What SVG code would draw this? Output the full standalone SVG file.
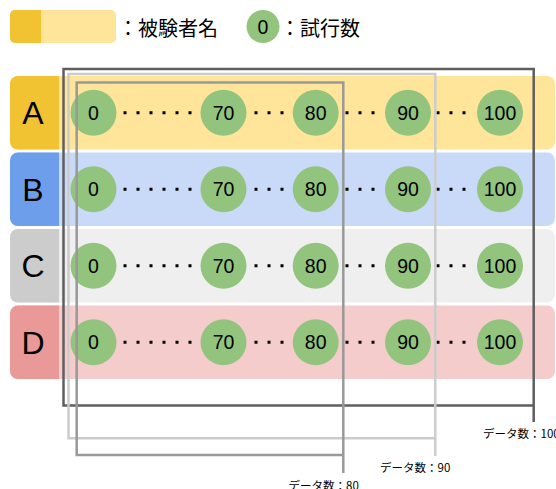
<svg xmlns="http://www.w3.org/2000/svg" width="556" height="489" viewBox="0 0 556 489">
<style>
.lbl{font-family:"Liberation Sans",Arial,sans-serif;font-size:32px;fill:#000;text-anchor:middle}
.num{font-family:"Liberation Sans",Arial,sans-serif;font-size:19.5px;fill:#000;text-anchor:middle}
.jp{font-family:"Noto Sans CJK JP","Liberation Sans",sans-serif;fill:#000}
.leg{font-size:20px}
.dl{font-size:11.5px}
.tc{fill:#93c47d}
.dots{stroke:#000;stroke-width:3;stroke-dasharray:3 10;fill:none}
.fr{fill:none;stroke-width:2.5}
</style>
<g id="legend">
<rect x="10" y="10" width="106" height="33" rx="5" fill="#ffe599"/>
<path d="M15,10 H41 V43 H15 A5,5 0 0 1 10,38 V15 A5,5 0 0 1 15,10 Z" fill="#f1c232"/>
<text class="jp leg" x="118" y="36">：被験者名</text>
<circle class="tc" cx="263" cy="26.5" r="16.5"/>
<text class="num" x="263" y="33.5">0</text>
<text class="jp leg" x="280" y="36">：試行数</text>
</g>
<g id="rowA">
<rect x="10" y="76" width="545" height="73.5" rx="8" fill="#ffe599"/>
<path d="M18,76 H59 V149.5 H18 A8,8 0 0 1 10,141.5 V84 A8,8 0 0 1 18,76 Z" fill="#f1c232"/>
<text class="lbl" x="33" y="124">A</text>
</g>
<g id="rowB">
<rect x="10" y="152.5" width="545" height="73.5" rx="8" fill="#c9daf8"/>
<path d="M18,152.5 H59 V226 H18 A8,8 0 0 1 10,218 V160.5 A8,8 0 0 1 18,152.5 Z" fill="#6d9eeb"/>
<text class="lbl" x="33" y="200.5">B</text>
</g>
<g id="rowC">
<rect x="10" y="229" width="545" height="73.5" rx="8" fill="#efefef"/>
<path d="M18,229 H59 V302.5 H18 A8,8 0 0 1 10,294.5 V237 A8,8 0 0 1 18,229 Z" fill="#cccccc"/>
<text class="lbl" x="33" y="277">C</text>
</g>
<g id="rowD">
<rect x="10" y="305.5" width="545" height="73.5" rx="8" fill="#f4cccc"/>
<path d="M18,305.5 H59 V379 H18 A8,8 0 0 1 10,371 V313.5 A8,8 0 0 1 18,305.5 Z" fill="#ea9999"/>
<text class="lbl" x="33" y="353.5">D</text>
</g>
<g id="connectors">
<path class="dots" d="M123.5,112.75 H192 M254.5,112.75 H284 M345.5,112.75 H376 M436.5,112.75 H467
M123.5,189.25 H192 M254.5,189.25 H284 M345.5,189.25 H376 M436.5,189.25 H467
M123.5,265.75 H192 M254.5,265.75 H284 M345.5,265.75 H376 M436.5,265.75 H467
M123.5,342.25 H192 M254.5,342.25 H284 M345.5,342.25 H376 M436.5,342.25 H467"/>
</g>
<g id="trialsA">
<g id="A0"><circle class="tc" cx="93.5" cy="112.75" r="23"/><text class="num" x="93.5" y="119.7">0</text></g>
<g id="A70"><circle class="tc" cx="223.5" cy="112.75" r="23"/><text class="num" x="223.5" y="119.7">70</text></g>
<g id="A80"><circle class="tc" cx="315.7" cy="112.75" r="23"/><text class="num" x="315.7" y="119.7">80</text></g>
<g id="A90"><circle class="tc" cx="408" cy="112.75" r="23"/><text class="num" x="408" y="119.7">90</text></g>
<g id="A100"><circle class="tc" cx="500" cy="112.75" r="23"/><text class="num" x="500" y="119.7">100</text></g>
</g>
<g id="trialsB">
<g id="B0"><circle class="tc" cx="93.5" cy="189.25" r="23"/><text class="num" x="93.5" y="196.2">0</text></g>
<g id="B70"><circle class="tc" cx="223.5" cy="189.25" r="23"/><text class="num" x="223.5" y="196.2">70</text></g>
<g id="B80"><circle class="tc" cx="315.7" cy="189.25" r="23"/><text class="num" x="315.7" y="196.2">80</text></g>
<g id="B90"><circle class="tc" cx="408" cy="189.25" r="23"/><text class="num" x="408" y="196.2">90</text></g>
<g id="B100"><circle class="tc" cx="500" cy="189.25" r="23"/><text class="num" x="500" y="196.2">100</text></g>
</g>
<g id="trialsC">
<g id="C0"><circle class="tc" cx="93.5" cy="265.75" r="23"/><text class="num" x="93.5" y="272.7">0</text></g>
<g id="C70"><circle class="tc" cx="223.5" cy="265.75" r="23"/><text class="num" x="223.5" y="272.7">70</text></g>
<g id="C80"><circle class="tc" cx="315.7" cy="265.75" r="23"/><text class="num" x="315.7" y="272.7">80</text></g>
<g id="C90"><circle class="tc" cx="408" cy="265.75" r="23"/><text class="num" x="408" y="272.7">90</text></g>
<g id="C100"><circle class="tc" cx="500" cy="265.75" r="23"/><text class="num" x="500" y="272.7">100</text></g>
</g>
<g id="trialsD">
<g id="D0"><circle class="tc" cx="93.5" cy="342.25" r="23"/><text class="num" x="93.5" y="349.2">0</text></g>
<g id="D70"><circle class="tc" cx="223.5" cy="342.25" r="23"/><text class="num" x="223.5" y="349.2">70</text></g>
<g id="D80"><circle class="tc" cx="315.7" cy="342.25" r="23"/><text class="num" x="315.7" y="349.2">80</text></g>
<g id="D90"><circle class="tc" cx="408" cy="342.25" r="23"/><text class="num" x="408" y="349.2">90</text></g>
<g id="D100"><circle class="tc" cx="500" cy="342.25" r="23"/><text class="num" x="500" y="349.2">100</text></g>
</g>
<g id="frame100">
<path class="fr" stroke="#5f5f5f" d="M533.7,422 V69 H63.5 V405.5 H533.7"/>
<text class="jp dl" x="483" y="437.5">データ数：100</text>
</g>
<g id="frame90">
<path class="fr" stroke="#cccccc" d="M435.3,456 V74 H68.5 V438.3 H435.3"/>
<text class="jp dl" x="380" y="471.5">データ数：90</text>
</g>
<g id="frame80">
<path class="fr" stroke="#999999" d="M343.3,473 V82.5 H76.7 V455 H343.3"/>
<text class="jp dl" x="288.5" y="490">データ数：80</text>
</g>
</svg>
